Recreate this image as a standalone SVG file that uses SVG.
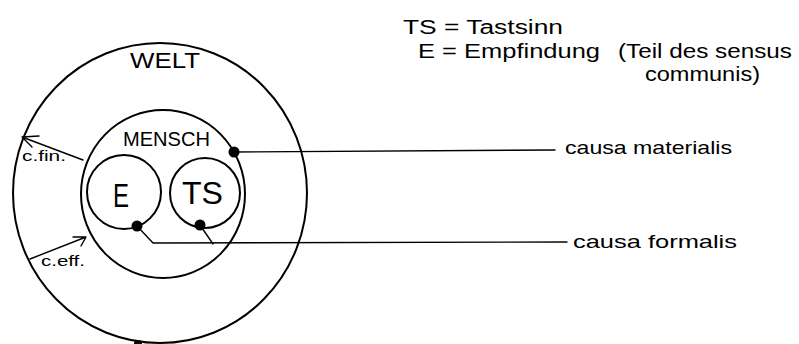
<svg xmlns="http://www.w3.org/2000/svg" width="799" height="344" viewBox="0 0 799 344">
<style>
.ring{fill:none;stroke:#000;stroke-width:2}
.con{fill:none;stroke:#000;stroke-width:1.4;stroke-linecap:round;stroke-linejoin:round}
.dot{fill:#000}
text{font-family:"Liberation Sans","DejaVu Sans",sans-serif;fill:#000}
</style>
<rect width="799" height="344" fill="#fff"/>
<g id="welt">
<ellipse class="ring" cx="160" cy="193" rx="147" ry="150"/>
<text x="130" y="68" font-size="22" textLength="70" lengthAdjust="spacingAndGlyphs">WELT</text>
</g>
<g id="mensch">
<ellipse class="ring" cx="163" cy="194" rx="82" ry="84"/>
<text x="123" y="146" font-size="21" textLength="87" lengthAdjust="spacingAndGlyphs">MENSCH</text>
</g>
<g id="e">
<ellipse class="ring" cx="124" cy="192" rx="37" ry="37"/>
<text x="113" y="207" font-size="34" textLength="16" lengthAdjust="spacingAndGlyphs">E</text>
</g>
<g id="ts">
<ellipse class="ring" cx="205" cy="193" rx="35" ry="35"/>
<text x="182" y="204" font-size="32" textLength="41" lengthAdjust="spacingAndGlyphs">TS</text>
</g>
<g id="connectors">
<path class="con" d="M234,152 L555,150"/>
<path class="con" d="M137,226 L153,243 L567,242"/>
<path class="con" d="M200,225 L213,244"/>
<path class="con" d="M83,160 L22,137 M22,137 L39,136 M22,137 L32,147"/>
<path class="con" d="M30,259 L86,237 M86,237 L73,237 M86,237 L81,246"/>
<circle class="dot" cx="234" cy="152" r="5.5"/>
<circle class="dot" cx="137" cy="226" r="5.5"/>
<circle class="dot" cx="200" cy="225" r="5.5"/>
<circle class="dot" cx="138" cy="344" r="4"/>
</g>
<g id="labels">
<text x="22" y="161" font-size="14" textLength="44" lengthAdjust="spacingAndGlyphs">c.fin.</text>
<text x="41" y="266" font-size="14" textLength="44" lengthAdjust="spacingAndGlyphs">c.eff.</text>
<text x="565" y="154" font-size="19" textLength="167" lengthAdjust="spacingAndGlyphs">causa materialis</text>
<text x="573" y="248" font-size="19" textLength="164" lengthAdjust="spacingAndGlyphs">causa formalis</text>
</g>
<g id="legend">
<text x="403" y="34" font-size="20" textLength="160" lengthAdjust="spacingAndGlyphs">TS = Tastsinn</text>
<text x="418" y="58" font-size="20" textLength="182" lengthAdjust="spacingAndGlyphs">E = Empfindung</text>
<text x="618" y="58" font-size="20" textLength="174" lengthAdjust="spacingAndGlyphs">(Teil des sensus</text>
<text x="645" y="81" font-size="20" textLength="115" lengthAdjust="spacingAndGlyphs">communis)</text>
</g>
</svg>
